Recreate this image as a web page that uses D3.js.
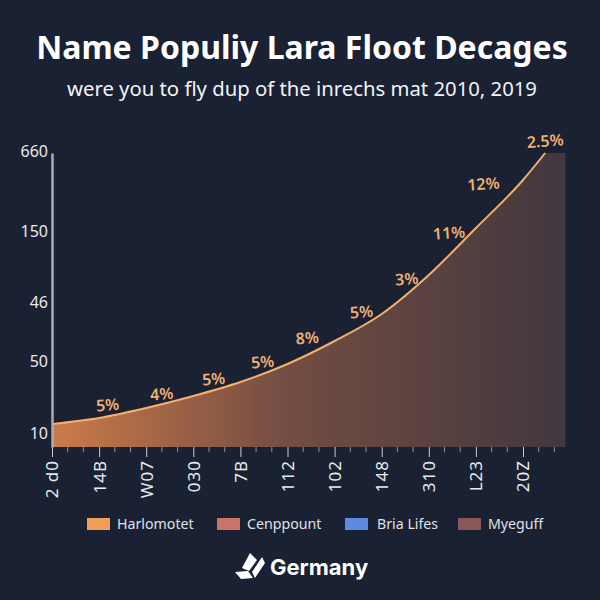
<!DOCTYPE html>
<html>
<head>
<meta charset="utf-8">
<script src="https://cdn.jsdelivr.net/npm/d3@7"></script>
<style>
  html, body { margin: 0; padding: 0; background: #1a2133; }
  svg { display: block; }
</style>
</head>
<body>
<script>
// Values. The y labels are not in order in the
// original, so each one gets its own spot on the scale.
const xLabels = ["2 d0", "14B", "W07", "030", "7B", "112", "102", "148", "310", "L23", "20Z"];
const yLabels = ["10", "50", "46", "150", "660"];
const yLabelLevels = [14, 86, 145, 216, 296];

// Curve, one value per x tick, then the top of the curve
const curveIndex = [0, 1, 2, 3, 4, 5, 6, 7, 8, 9, 10, 10.47];
const curveValues = [23, 29, 39, 51, 65, 83, 106, 133, 172, 219, 267, 294];
const areaEndIndex = 10.9; // area carries on flat after the peak

const pctLabels = ["5%", "4%", "5%", "5%", "8%", "5%", "3%", "11%", "12%", "2.5%"];
const pctIndex = [1.18, 2.33, 3.43, 4.47, 5.42, 6.57, 7.53, 8.43, 9.16, 10.47];
const pctLevels = [42, 53, 68, 85, 109, 135, 168, 214, 263, 306];

const legendNames = ["Harlomotet", "Cenppount", "Bria Lifes", "Myeguff"];
const legendColors = ["#f29d58", "#c9736a", "#5f8ae0", "#8a5658"];

const width = 600;
const height = 600;
const margin = { top: 153, right: 35, bottom: 153, left: 52 };
const font = "'Noto Sans', 'Open Sans', sans-serif";

const svg = d3.select("body")
  .append("svg")
  .attr("width", width)
  .attr("height", height)
  .attr("viewBox", [0, 0, width, height]);

svg.append("rect")
  .attr("width", width)
  .attr("height", height)
  .attr("fill", "#1a2133");

// x runs on tick index, 47 px or so between ticks
const x = d3.scaleLinear()
  .domain([0, 10])
  .range([52, 523]);

const y = d3.scaleLinear()
  .domain([0, 294])
  .range([height - margin.bottom, margin.top]);

const points = curveIndex.map((d, i) => ({ i: d, v: curveValues[i] }));

// Area gradient
const grad = svg.append("defs")
  .append("linearGradient")
  .attr("id", "areaFill")
  .attr("x1", "0%")
  .attr("x2", "100%");
grad.append("stop").attr("offset", "0%").attr("stop-color", "#cb7b49");
grad.append("stop").attr("offset", "45%").attr("stop-color", "#744d43");
grad.append("stop").attr("offset", "100%").attr("stop-color", "#41373e");

const line = d3.line()
  .x((d) => x(d.i))
  .y((d) => y(d.v))
  .curve(d3.curveMonotoneX);

// Same curve as the line, then closed off along the top and the baseline
const peak = curveValues[curveValues.length - 1];
svg.append("path")
  .attr("d", line(points)
    + `L${x(areaEndIndex)},${y(peak)}`
    + `L${x(areaEndIndex)},${y(0)}`
    + `L${x(0)},${y(0)}Z`)
  .attr("fill", "url(#areaFill)");

svg.append("path")
  .datum(points)
  .attr("d", line)
  .attr("fill", "none")
  .attr("stroke", "#f3b06f")
  .attr("stroke-width", 2);

// X axis, major ticks with two minor ones between
const minorTicks = d3.range(0, 10.9, 1 / 3)
  .filter((d) => Math.abs(d - Math.round(d)) > 0.01);

svg.append("g")
  .attr("transform", `translate(0,${y(0)})`)
  .selectAll("line")
  .data(minorTicks)
  .join("line")
  .attr("x1", (d) => x(d))
  .attr("x2", (d) => x(d))
  .attr("y2", 5)
  .attr("stroke", "#8d919c")
  .attr("stroke-width", 1);

const xAxis = svg.append("g")
  .attr("transform", `translate(0,${y(0)})`)
  .call(d3.axisBottom(x)
    .tickValues(d3.range(xLabels.length))
    .tickFormat((i) => xLabels[i])
    .tickSize(10)
    .tickPadding(6)
    .tickSizeOuter(0));
xAxis.select(".domain").remove();
xAxis.selectAll("line").attr("stroke", "#c9ccd3");
xAxis.selectAll("text")
  .attr("transform", "rotate(-90)")
  .attr("x", -13)
  .attr("y", 0)
  .attr("dy", "0.35em")
  .attr("text-anchor", "end")
  .attr("fill", "#e8eaee")
  .style("font-family", font)
  .style("font-size", "17px")
  .style("letter-spacing", "1px");

// Y axis
const yAxis = svg.append("g")
  .attr("transform", `translate(${x(0)},0)`)
  .call(d3.axisLeft(y)
    .tickValues(yLabelLevels)
    .tickFormat((d, i) => yLabels[i])
    .tickSize(0)
    .tickPadding(4));
yAxis.select(".domain")
  .attr("stroke", "#a9acb6")
  .attr("stroke-width", 2.5);
yAxis.selectAll("text")
  .attr("fill", "#e8eaee")
  .style("font-family", font)
  .style("font-size", "16px");

// Percent labels, tilted a little like the original
svg.append("g")
  .selectAll("text")
  .data(pctLabels)
  .join("text")
  .attr("transform", (d, i) => `translate(${x(pctIndex[i])},${y(pctLevels[i])}) rotate(-4)`)
  .attr("text-anchor", "middle")
  .attr("dy", "0.35em")
  .attr("fill", "#f0b071")
  .style("font-family", font)
  .style("font-weight", 600)
  .style("font-size", "16px")
  .text((d) => d);

// Title
svg.append("text")
  .attr("x", width / 2 + 2)
  .attr("y", 59)
  .attr("text-anchor", "middle")
  .attr("fill", "#ffffff")
  .style("font-family", font)
  .style("font-weight", 700)
  .style("font-size", "32px")
  .text("Name Populiy Lara Floot Decages");

svg.append("text")
  .attr("x", width / 2 + 2)
  .attr("y", 96)
  .attr("text-anchor", "middle")
  .attr("fill", "#f2f3f5")
  .style("font-family", font)
  .style("font-size", "20.3px")
  .text("were you to fly dup of the inrechs mat 2010, 2019");

// Legend
const legendX = d3.scaleOrdinal()
  .domain(legendNames)
  .range([87, 217, 345, 458]);

const legend = svg.append("g")
  .selectAll("g")
  .data(legendNames)
  .join("g")
  .attr("transform", (d) => `translate(${legendX(d)},524)`);

legend.append("rect")
  .attr("y", -6)
  .attr("width", 23)
  .attr("height", 12)
  .attr("fill", (d, i) => legendColors[i]);

legend.append("text")
  .attr("x", (d, i) => (i === 2 ? 32 : 30))
  .attr("dy", "0.35em")
  .attr("fill", "#dfe1e6")
  .style("font-family", font)
  .style("font-size", "14.2px")
  .text((d) => d);

// Logo and wordmark
const logo = svg.append("g")
  .attr("transform", "translate(235,553)")
  .attr("fill", "#ffffff");
logo.append("path").attr("d", "M15 0 L22 7 L14 18 L7 15 Z");
logo.append("path").attr("d", "M27 4 L30 10 L20 25 L17 19 Z");
logo.append("path").attr("d", "M0 19 L13 18 L18 25 L6 26 Z");

svg.append("text")
  .attr("x", 270)
  .attr("y", 575)
  .attr("fill", "#ffffff")
  .style("font-family", "Inter, 'Open Sans', sans-serif")
  .style("font-weight", 700)
  .style("font-size", "22px")
  .text("Germany");
</script>
</body>
</html>
